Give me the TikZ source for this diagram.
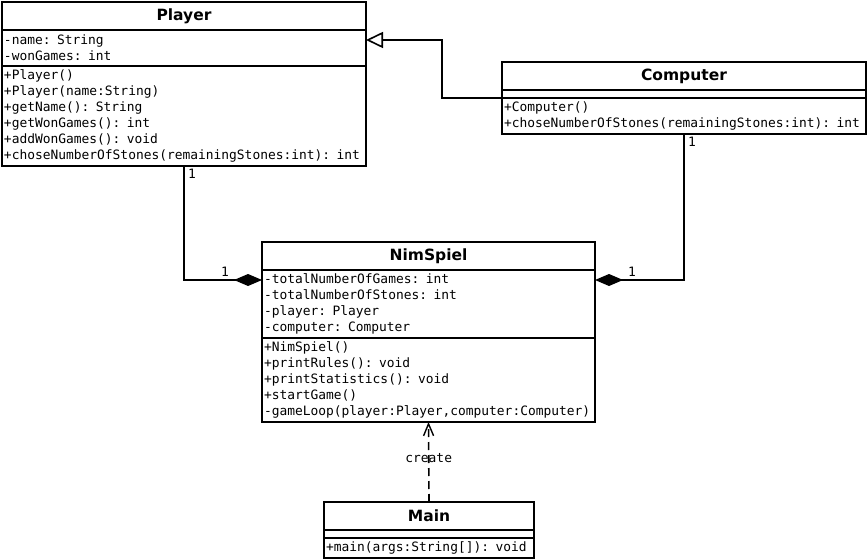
\documentclass[tikz,border=0pt]{standalone}
\usepackage{fontspec}
\setmainfont{DejaVu Sans}
\setmonofont{DejaVu Sans Mono}
\usetikzlibrary{arrows.meta,calc}

\begin{document}
\begin{tikzpicture}[x=1pt,y=-1pt,
	head/.style={draw,line width=1.6pt,anchor=north west,outer sep=0pt,minimum height=28pt,inner sep=0pt,font=\fontsize{15.5}{16}\selectfont\bfseries},
	body/.style={draw,line width=1.6pt,anchor=north west,outer sep=0pt,inner xsep=2pt,inner ysep=0pt,align=left,font=\fontsize{12.9}{16}\selectfont\ttfamily},
	conn/.style={line width=1.6pt},
	lbl/.style={inner sep=0pt,font=\fontsize{12.9}{16}\selectfont\ttfamily}]
	\useasboundingbox (0,0) rectangle (868,559);
	% Player
	\node[head,minimum width=364pt] at (2,2) (player) {Player};
	\node[body,text width=360pt,minimum height=36pt] at (player.south west) (playerA) {-name: String\\-wonGames: int};
	\node[body,text width=360pt,minimum height=100pt] at (playerA.south west) (playerM) {+Player()\\+Player(name:String)\\+getName(): String\\+getWonGames(): int\\+addWonGames(): void\\+choseNumberOfStones(remainingStones:int): int};
	% Computer
	\node[head,minimum width=364pt] at (502,62) (computer) {Computer};
	\node[body,minimum width=364pt,minimum height=8pt] at (computer.south west) (computerA) {};
	\node[body,text width=360pt,minimum height=36pt] at (computerA.south west) (computerM) {+Computer()\\+choseNumberOfStones(remainingStones:int): int};
	% NimSpiel
	\node[head,minimum width=333pt] at (262,242) (nim) {NimSpiel};
	\node[body,text width=329pt,minimum height=68pt] at (nim.south west) (nimA) {-totalNumberOfGames: int\\-totalNumberOfStones: int\\-player: Player\\-computer: Computer};
	\node[body,text width=329pt,minimum height=84pt] at (nimA.south west) (nimM) {+NimSpiel()\\+printRules(): void\\+printStatistics(): void\\+startGame()\\-gameLoop(player:Player,computer:Computer)};
	% Main
	\node[head,minimum width=210pt] at (324,502) (main) {Main};
	\node[body,minimum width=210pt,minimum height=8pt] at (main.south west) (mainA) {};
	\node[body,text width=206pt,minimum height=20pt] at (mainA.south west) (mainM) {+main(args:String[]): void};

	\coordinate (gen) at ($(playerA.north east)+(0,10)$);
	\coordinate (compL) at ($(nimA.north west)+(0,10)$);
	\coordinate (compR) at ($(nimA.north east)+(0,10)$);

	\draw[conn,-{Triangle[open,length=17pt,width=16pt]}] (computerA.south west) -- ++(-60,0) |- (gen);
	\draw[conn,-{Diamond[length=28pt,width=12pt]}] (playerM.south) |- (compL);
	\draw[conn,-{Diamond[length=28pt,width=12pt]}] (computerM.south) |- (compR);
	\draw[conn,dash pattern=on 8pt off 5pt,-{Straight Barb[length=12pt,width=10pt,line width=1.4pt]}] (main.north) -- node[lbl,pos=0.55] {create} (nimM.south);

	\node[lbl,anchor=north west] at ($(playerM.south)+(4,3)$) {1};
	\node[lbl,anchor=south east] at ($(compL)+(-33,-3)$) {1};
	\node[lbl,anchor=north west] at ($(computerM.south)+(4,3)$) {1};
	\node[lbl,anchor=south west] at ($(compR)+(33,-3)$) {1};
\end{tikzpicture}
\end{document}
